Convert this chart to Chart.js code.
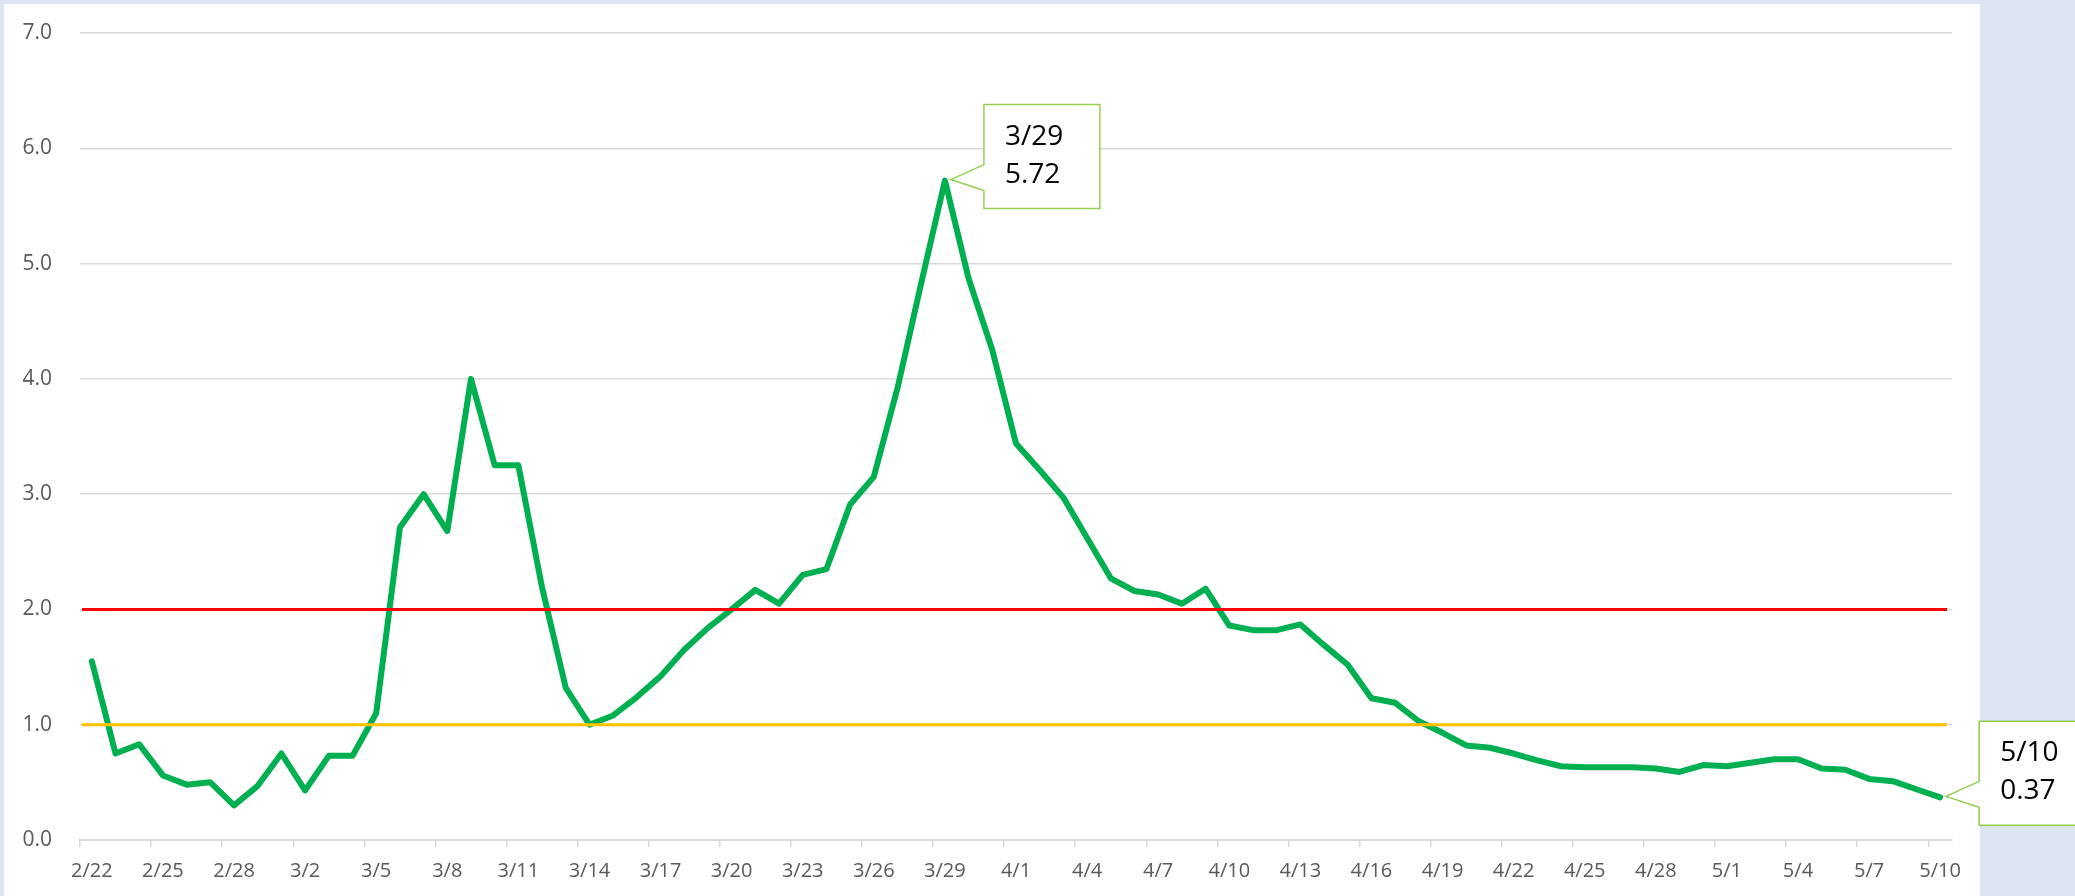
<!DOCTYPE html>
<html lang="en">
<head>
    <meta charset="UTF-8">
    <title>Daily ratio chart</title>
    <script src="https://cdn.jsdelivr.net/npm/chart.js"></script>
    <style>
        body {
            margin: 0;
            padding: 0;
            background-color: #dce6f2;
            overflow: hidden;
        }

        .panel {
            position: absolute;
            left: 4px;
            top: 4px;
            width: 1976px;
            height: 892px;
            background-color: #ffffff;
        }

        #ratio-chart {
            position: absolute;
            left: 0;
            top: 0;
        }
    </style>
</head>
<body>
    <div class="panel"></div>
    <canvas id="ratio-chart" width="2075" height="896"></canvas>

    <script>
        const dates = [
            '2/22', '2/23', '2/24', '2/25', '2/26', '2/27', '2/28', '2/29',
            '3/1', '3/2', '3/3', '3/4', '3/5', '3/6', '3/7', '3/8', '3/9', '3/10',
            '3/11', '3/12', '3/13', '3/14', '3/15', '3/16', '3/17', '3/18', '3/19', '3/20',
            '3/21', '3/22', '3/23', '3/24', '3/25', '3/26', '3/27', '3/28', '3/29', '3/30', '3/31',
            '4/1', '4/2', '4/3', '4/4', '4/5', '4/6', '4/7', '4/8', '4/9', '4/10',
            '4/11', '4/12', '4/13', '4/14', '4/15', '4/16', '4/17', '4/18', '4/19', '4/20',
            '4/21', '4/22', '4/23', '4/24', '4/25', '4/26', '4/27', '4/28', '4/29', '4/30',
            '5/1', '5/2', '5/3', '5/4', '5/5', '5/6', '5/7', '5/8', '5/9', '5/10'
        ];

        const ratios = [
            1.55, 0.75, 0.83, 0.56, 0.48, 0.50, 0.30, 0.47,
            0.75, 0.43, 0.73, 0.73, 1.10, 2.71, 3.00, 2.68, 4.00, 3.25,
            3.25, 2.19, 1.32, 1.00, 1.08, 1.24, 1.42, 1.65, 1.84, 2.00,
            2.17, 2.05, 2.30, 2.35, 2.91, 3.15, 3.92, 4.83, 5.72, 4.87, 4.25,
            3.44, 3.21, 2.97, 2.62, 2.27, 2.16, 2.13, 2.05, 2.18, 1.86,
            1.82, 1.82, 1.87, 1.69, 1.52, 1.23, 1.19, 1.03, 0.93, 0.82,
            0.80, 0.75, 0.69, 0.64, 0.63, 0.63, 0.63, 0.62, 0.59, 0.65,
            0.64, 0.67, 0.70, 0.70, 0.62, 0.61, 0.53, 0.51, 0.44, 0.37
        ];

        // reference levels drawn across the plot
        const thresholds = [
            { value: 2.0, color: '#ff0000' },
            { value: 1.0, color: '#ffc000' }
        ];

        // points that get a callout box
        const calloutDates = ['3/29', '5/10'];

        const gridGray = '#d9d9d9';
        const labelGray = '#595959';

        const thresholdPlugin = {
            id: 'thresholds',
            afterDatasetsDraw(chart) {
                const ctx = chart.ctx;
                const area = chart.chartArea;
                const y = chart.scales.y;
                ctx.save();
                thresholds.forEach(t => {
                    const py = y.getPixelForValue(t.value);
                    ctx.beginPath();
                    ctx.strokeStyle = t.color;
                    ctx.lineWidth = 3;
                    ctx.moveTo(area.left + 2, py);
                    ctx.lineTo(area.right - 5, py);
                    ctx.stroke();
                });
                ctx.restore();
            }
        };

        const calloutPlugin = {
            id: 'callouts',
            afterDraw(chart) {
                const ctx = chart.ctx;
                const points = chart.getDatasetMeta(0).data;
                ctx.save();
                calloutDates.forEach(d => {
                    const i = dates.indexOf(d);
                    const px = points[i].x;
                    const py = points[i].y;
                    const left = px + 39;
                    const top = py - 76;
                    const w = 116;
                    const h = 104;

                    ctx.beginPath();
                    ctx.moveTo(left, top);
                    ctx.lineTo(left + w, top);
                    ctx.lineTo(left + w, top + h);
                    ctx.lineTo(left, top + h);
                    ctx.lineTo(left, top + 86);
                    ctx.lineTo(px + 6, py - 1);
                    ctx.lineTo(left, top + 60);
                    ctx.closePath();
                    ctx.fillStyle = '#ffffff';
                    ctx.fill();
                    ctx.strokeStyle = '#92d050';
                    ctx.lineWidth = 1.5;
                    ctx.stroke();

                    ctx.fillStyle = '#000000';
                    ctx.font = '28px "Open Sans"';
                    ctx.textAlign = 'left';
                    ctx.textBaseline = 'alphabetic';
                    ctx.fillText(d, left + 21, top + 40);
                    ctx.fillText(ratios[i].toFixed(2), left + 21, top + 78);
                });
                ctx.restore();
            }
        };

        const ctx = document.getElementById('ratio-chart').getContext('2d');
        new Chart(ctx, {
            type: 'line',
            data: {
                labels: dates,
                datasets: [{
                    data: ratios,
                    borderColor: '#00b050',
                    borderWidth: 6,
                    borderJoinStyle: 'round',
                    borderCapStyle: 'round',
                    pointRadius: 0,
                    tension: 0,
                    fill: false
                }]
            },
            options: {
                responsive: false,
                animation: false,
                devicePixelRatio: 1,
                layout: {
                    padding: { left: 0, top: 33, right: 123, bottom: 0 }
                },
                plugins: {
                    legend: { display: false },
                    tooltip: { enabled: false }
                },
                scales: {
                    x: {
                        offset: true,
                        afterFit(scale) { scale.height = 56; },
                        grid: {
                            offset: true,
                            drawOnChartArea: false,
                            tickLength: 7,
                            lineWidth: 1.5,
                            color: c => (c.index % 3 === 0 ? gridGray : 'transparent')
                        },
                        border: { display: true, color: gridGray, width: 2 },
                        ticks: {
                            autoSkip: false,
                            maxRotation: 0,
                            padding: 12,
                            color: labelGray,
                            font: { family: 'Open Sans', size: 20 },
                            callback: (v, i) => (i % 3 === 0 ? dates[i] : '')
                        }
                    },
                    y: {
                        min: 0,
                        max: 7,
                        afterFit(scale) { scale.width = 80; },
                        grid: {
                            color: gridGray,
                            lineWidth: 1.5,
                            drawTicks: true,
                            tickLength: 28,
                            tickColor: 'transparent'
                        },
                        border: { display: false },
                        ticks: {
                            stepSize: 1,
                            padding: 0,
                            color: labelGray,
                            font: { family: 'Open Sans', size: 21 },
                            callback: v => v.toFixed(1)
                        }
                    }
                }
            },
            plugins: [thresholdPlugin, calloutPlugin]
        });
    </script>
</body>
</html>
